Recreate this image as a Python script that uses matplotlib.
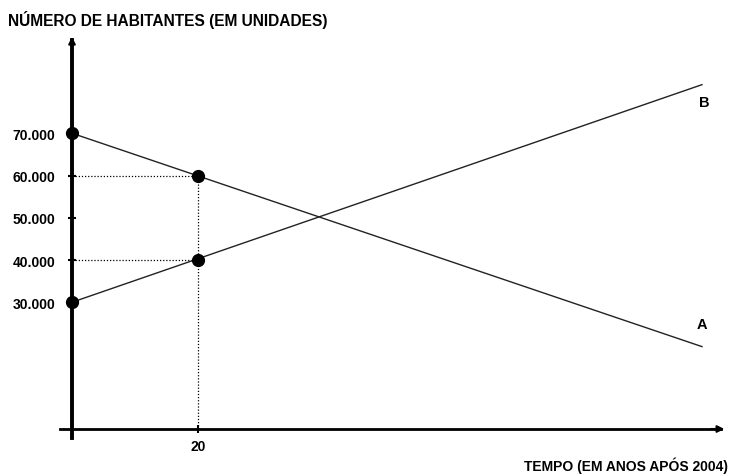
import matplotlib.pyplot as plt

# data
years = [0, 20, 100]
line_a = [70000, 60000, 19500]
line_b = [30000, 40000, 81500]
point_x = [0, 20, 0, 20]
point_y = [70000, 60000, 30000, 40000]
y_ticks = [30000, 40000, 50000, 60000, 70000]
y_tick_labels = ["30.000", "40.000", "50.000", "60.000", "70.000"]
x_ticks = [20]
x_tick_labels = ["20"]

plt.rcParams['font.family'] = ['Liberation Sans', 'DejaVu Sans']

fig = plt.figure(figsize=(7.29, 4.77), dpi=100)
ax = fig.add_axes([0, 0, 1, 1])
ax.set_xlim(-11.43, 104.29)
ax.set_ylim(-11124, 101775)

# lines
ax.plot([years[0], years[2]], [line_a[0], line_a[2]], color='#222222', lw=1.0, zorder=3)
ax.plot([years[0], years[2]], [line_b[0], line_b[2]], color='#222222', lw=1.0, zorder=3)

# dotted guides
ax.plot([0, 20], [60000, 60000], color='black', lw=0.9, ls=(0, (1, 1.5)), zorder=2)
ax.plot([0, 20], [40000, 40000], color='black', lw=0.9, ls=(0, (1, 1.5)), zorder=2)
ax.plot([20, 20], [0, 60000], color='black', lw=0.9, ls=(0, (1, 1.5)), zorder=2)

# points
ax.plot(point_x, point_y, 'o', color='black', ms=8.5, zorder=5)

# axes spines
for s in ['top', 'right']:
    ax.spines[s].set_visible(False)
ax.spines['left'].set_position(('data', 0))
ax.spines['bottom'].set_position(('data', 0))
ax.spines['left'].set_bounds(-2200, 92000)
ax.spines['bottom'].set_bounds(-1.9, 103)
ax.spines['left'].set_linewidth(2.8)
ax.spines['bottom'].set_linewidth(2.0)
ax.spines['left'].set_zorder(4)

# arrows
ax.annotate('', xy=(0, 93500), xytext=(0, 90000),
            arrowprops=dict(arrowstyle='-|>', color='black', lw=1.5, mutation_scale=10))
ax.annotate('', xy=(104, 0), xytext=(101, 0),
            arrowprops=dict(arrowstyle='-|>', color='black', lw=1.5, mutation_scale=10))

ax.set_yticks(y_ticks)
ax.set_yticklabels(y_tick_labels, fontsize=10, fontweight='bold')
ax.set_xticks(x_ticks)
ax.set_xticklabels(x_tick_labels, fontsize=10, fontweight='bold')
ax.tick_params(axis='y', direction='inout', length=6, width=1.5, pad=9)
ax.tick_params(axis='x', direction='inout', length=6, width=1.5, pad=4)

# labels
ax.text(100.4, 77400, 'B', fontsize=10.5, fontweight='bold', ha='center', va='center')
ax.text(100.0, 24900, 'A', fontsize=10.5, fontweight='bold', ha='center', va='center')
fig.text(8 / 729, 1 - 20 / 477, 'NÚMERO DE HABITANTES (EM UNIDADES)', fontsize=11.2,
         fontweight='bold', ha='left', va='center')
fig.text(728 / 729, 1 - 466 / 477, 'TEMPO (EM ANOS APÓS 2004)', fontsize=10,
         fontweight='bold', ha='right', va='center')

fig.savefig('out.png', dpi=100)
